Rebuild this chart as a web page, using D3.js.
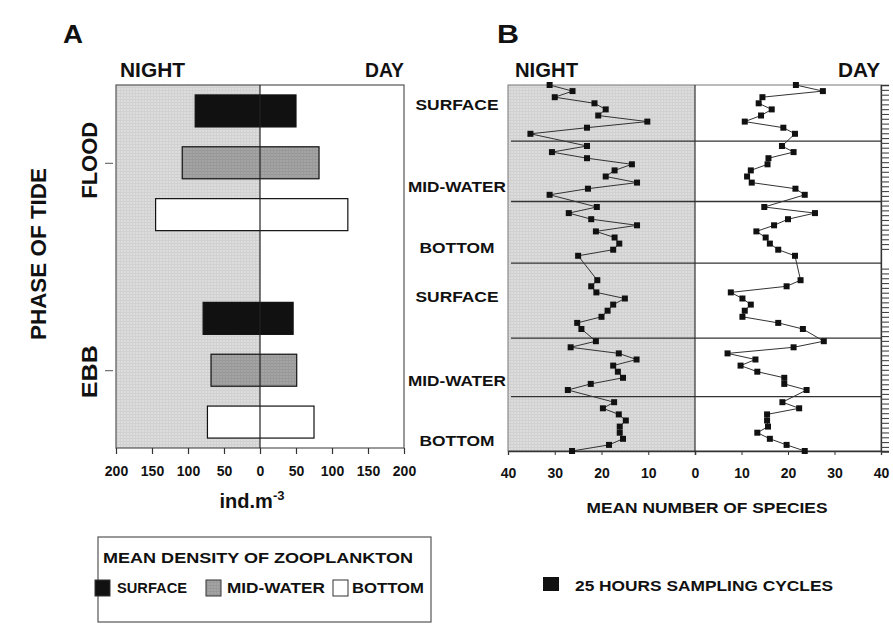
<!DOCTYPE html>
<html><head><meta charset="utf-8">
<script src="https://cdn.jsdelivr.net/npm/d3@7"></script>
<style>
body{margin:0;background:#fff}
text{font-family:"Liberation Sans",Arial,Helvetica,sans-serif;font-weight:bold;fill:#111}
</style>
</head><body>
<svg id="chart" width="893" height="624"></svg>
<script>
// ---------------- DATA ----------------
const tidePhases = ["FLOOD", "EBB"];
const depthLayers = ["SURFACE", "MID-WATER", "BOTTOM"];
// mean density (ind.m-3), order: FLOOD surface, mid, bottom, EBB surface, mid, bottom
const densityNight = [90, 108, 145, 79, 68, 73];
const densityDay   = [50, 82, 122, 46, 51, 75];
const densityTicks = [-200, -150, -100, -50, 0, 50, 100, 150, 200];

// sampling order (index within the 25 h cycles), per depth block
const sampleIndex = [
  0,1,2,3,4,5,6,7,8,
  10,11,12,13,14,15,16,17,18,
  20,21,22,23,24,25,26,27,28,
  32,33,34,35,36,37,38,39,40,
  42,43,44,45,46,47,48,49,50,
  52,53,54,55,56,57,58,59,60
];
const speciesNight = [
  31.1,26.2,30.0,21.5,19.1,20.7,10.2,23.1,35.2,
  23.1,30.6,23.1,13.5,17.2,19.1,12.4,22.9,31.1,
  21.0,27.0,22.2,12.4,21.2,17.2,16.2,17.5,25.0,
  20.9,22.2,21.1,15.0,17.5,18.7,20.0,25.2,24.3,
  21.2,26.6,16.3,12.5,17.5,16.5,15.4,22.3,27.2,
  17.3,19.7,16.3,14.8,16.1,16.1,15.4,18.4,26.3
];
const speciesDay = [
  21.7,27.5,14.5,13.7,16.5,14.2,10.7,19.0,21.5,
  18.7,21.2,15.8,15.6,12.0,11.2,12.2,21.6,23.6,
  14.9,25.8,20.0,17.0,13.2,15.2,16.1,17.9,21.5,
  22.7,19.7,7.7,10.2,12.0,10.7,10.2,17.9,23.2,
  27.7,21.2,7.0,13.0,9.8,13.4,19.2,19.2,24.0,
  18.8,22.4,15.5,15.5,15.7,13.4,16.1,19.7,23.6
];
const speciesTicksNight = [40, 30, 20, 10, 0];
const speciesTicksDay = [10, 20, 30, 40];
const sectionBreaks = [9.2, 19.1, 29.2, 41.5, 51.1];
const sectionLabels = ["SURFACE", "MID-WATER", "BOTTOM", "SURFACE", "MID-WATER", "BOTTOM"];

// ---------------- DRAW ----------------
const svg = d3.select("#chart");
const defs = svg.append("defs");
const pat = defs.append("pattern").attr("id","screen").attr("width",3).attr("height",3)
  .attr("patternUnits","userSpaceOnUse");
pat.append("rect").attr("width",3).attr("height",3).attr("fill","#dcdcdc");
pat.append("rect").attr("width",3).attr("height",1).attr("fill","#d0d0d0");
pat.append("rect").attr("width",1).attr("height",3).attr("fill","#d2d2d2");
const pat2 = defs.append("pattern").attr("id","screen2").attr("width",3).attr("height",3)
  .attr("patternUnits","userSpaceOnUse");
pat2.append("rect").attr("width",3).attr("height",3).attr("fill","#a4a4a4");
pat2.append("rect").attr("width",3).attr("height",1).attr("fill","#979797");
pat2.append("rect").attr("width",1).attr("height",3).attr("fill","#9a9a9a");

function label(txt, x, y, size, opts = {}) {
  const t = svg.append("text").attr("x", x).attr("y", y)
    .attr("font-size", size).attr("text-anchor", opts.anchor || "start").text(txt);
  if (opts.len) t.attr("textLength", opts.len).attr("lengthAdjust", "spacingAndGlyphs");
  if (opts.rotate) t.attr("transform", `rotate(-90 ${x} ${y})`);
  return t;
}

// ===== Panel A =====
const xA = d3.scaleLinear().domain([-200, 200]).range([116, 404]);
const yA = d3.scaleLinear().domain([-0.5, 6.5]).range([85, 448]);
const gA = svg.append("g");
gA.append("rect").attr("x", xA(-200)).attr("y", yA(-0.5))
  .attr("width", xA(0) - xA(-200)).attr("height", yA(6.5) - yA(-0.5)).attr("fill", "url(#screen)");

const rows = [];
tidePhases.forEach((p, pi) => depthLayers.forEach((d, di) => {
  const k = pi * 3 + di;
  rows.push({phase: p, depth: di, slot: pi * 4 + di, night: densityNight[k], day: densityDay[k]});
}));
const fills = ["#111", "url(#screen2)", "#fff"];
const barH = 32;
gA.selectAll("rect.bar").data(rows).join("rect").attr("class","bar")
  .attr("x", d => xA(-d.night)).attr("y", d => yA(d.slot) - barH / 2)
  .attr("width", d => xA(d.day) - xA(-d.night)).attr("height", barH)
  .attr("fill", d => fills[d.depth]).attr("stroke", "#111").attr("stroke-width", 1.2);

// box
gA.append("rect").attr("x", xA(-200)).attr("y", yA(-0.5))
  .attr("width", xA(200) - xA(-200)).attr("height", yA(6.5) - yA(-0.5))
  .attr("fill", "none").attr("stroke", "#555").attr("stroke-width", 1.2);
gA.append("line").attr("x1", xA(0)).attr("x2", xA(0)).attr("y1", yA(-0.5)).attr("y2", yA(6.5))
  .attr("stroke", "#222").attr("stroke-width", 1.2);

const axA = gA.append("g").attr("transform", `translate(0,${yA(6.5)})`)
  .call(d3.axisBottom(xA).tickValues(densityTicks).tickSize(6).tickFormat(d => Math.abs(d)));
axA.select(".domain").remove();
axA.selectAll(".tick line").attr("stroke", "#333").attr("stroke-width", 1.2);
axA.selectAll(".tick text").attr("font-size", 14).attr("y", 18).attr("fill", "#111")
  .attr("font-family", '"Liberation Sans Narrow","Liberation Sans",Arial,sans-serif')
  .attr("font-weight", "bold");

// phase ticks
const phaseAxis = gA.append("g").attr("transform", `translate(113,0)`)
  .call(d3.axisLeft(yA).tickValues([1, 5]).tickSize(8).tickFormat(""));
phaseAxis.select(".domain").remove();
phaseAxis.selectAll(".tick line").attr("stroke", "#555");
tidePhases.forEach((p, i) => {
  const yc = yA(i * 4 + 1) + (i ? 1.5 : -2.5);
  label(p, 97, yc, 22, {anchor: "middle", rotate: true, len: p.length === 5 ? 77 : 53});
});
label("PHASE OF TIDE", 46, 254, 22, {anchor: "middle", rotate: true, len: 172});

label("A", 63, 43, 26, {len: 20});
label("NIGHT", 120, 77, 20, {len: 65});
label("DAY", 404, 77, 20, {anchor: "end", len: 39});
const unit = svg.append("text").attr("x", 252).attr("y", 508).attr("font-size", 20)
  .attr("text-anchor", "middle");
unit.append("tspan").text("ind.m");
unit.append("tspan").attr("dy", -8).attr("font-size", 13).text("-3");

// legend A
svg.append("rect").attr("x", 98).attr("y", 537).attr("width", 333).attr("height", 85)
  .attr("fill", "none").attr("stroke", "#555").attr("stroke-width", 1.2);
label("MEAN DENSITY OF ZOOPLANKTON", 258, 563, 15, {anchor: "middle", len: 310});
const legA = [
  {name: depthLayers[0], sx: 95, tx: 117, len: 70, fill: "#111"},
  {name: depthLayers[1], sx: 206, tx: 227, len: 98, fill: "url(#screen2)"},
  {name: depthLayers[2], sx: 333, tx: 352, len: 72, fill: "#fff"}
];
legA.forEach(l => {
  svg.append("rect").attr("x", l.sx).attr("y", 580).attr("width", 15).attr("height", 16)
    .attr("fill", l.fill).attr("stroke", "#333").attr("stroke-width", 1);
  label(l.name, l.tx, 593, 14, {len: l.len});
});

// ===== Panel B =====
const xN = d3.scaleLinear().domain([40, 0]).range([508, 695]);
const xD = d3.scaleLinear().domain([0, 40]).range([695, 881]);
const yB = d3.scaleLinear().domain([0, 60]).range([85, 451]);
const gB = svg.append("g");
gB.append("rect").attr("x", xN(40)).attr("y", yB(0)).attr("width", xN(0) - xN(40))
  .attr("height", yB(60) - yB(0)).attr("fill", "url(#screen)");
gB.append("rect").attr("x", xN(40)).attr("y", yB(0)).attr("width", xD(40) - xN(40))
  .attr("height", yB(60) - yB(0)).attr("fill", "none").attr("stroke", "#777").attr("stroke-width", 1);
gB.append("line").attr("x1", xN(0)).attr("x2", xN(0)).attr("y1", yB(0)).attr("y2", yB(60))
  .attr("stroke", "#333").attr("stroke-width", 1.2);
gB.selectAll("line.sep").data(sectionBreaks).join("line").attr("class", "sep")
  .attr("x1", xN(40) + 3).attr("x2", xD(40)).attr("y1", d => yB(d)).attr("y2", d => yB(d))
  .attr("stroke", "#333").attr("stroke-width", 1.3);

// axes
const axN = gB.append("g").attr("transform", `translate(0,${yB(60)})`)
  .call(d3.axisBottom(xN).tickValues(speciesTicksNight).tickSize(4));
const axD = gB.append("g").attr("transform", `translate(0,${yB(60)})`)
  .call(d3.axisBottom(xD).tickValues(speciesTicksDay).tickSize(4));
[axN, axD].forEach(a => {
  a.select(".domain").attr("stroke", "#333").attr("stroke-width", 1.3);
  a.selectAll(".tick line").attr("stroke", "#333");
  a.selectAll(".tick text").attr("font-size", 14).attr("y", 17).attr("fill", "#111")
    .attr("font-family", '"Liberation Sans Narrow","Liberation Sans",Arial,sans-serif')
    .attr("font-weight", "bold");
});
// right minor ticks
const rightTicks = d3.range(0.8, 27.5, 0.79).concat(d3.range(30.1, 60.2, 0.79));
const axR = gB.append("g").attr("transform", `translate(${xD(40)},0)`)
  .call(d3.axisRight(yB).tickValues(rightTicks).tickSize(8).tickFormat(""));
axR.select(".domain").attr("stroke", "#333").attr("stroke-width", 1.3);
axR.selectAll(".tick line").attr("stroke", "#444").attr("stroke-width", 1.1);

const pts = sampleIndex.map((s, i) => ({s, n: speciesNight[i], d: speciesDay[i]}));
const lineN = d3.line().x(d => xN(d.n)).y(d => yB(d.s));
const lineD = d3.line().x(d => xD(d.d)).y(d => yB(d.s));
gB.append("path").attr("d", lineN(pts)).attr("fill", "none").attr("stroke", "#333").attr("stroke-width", 1);
gB.append("path").attr("d", lineD(pts)).attr("fill", "none").attr("stroke", "#333").attr("stroke-width", 1);
const sq = 6;
gB.selectAll("rect.pn").data(pts).join("rect").attr("class", "pn")
  .attr("x", d => xN(d.n) - sq / 2).attr("y", d => yB(d.s) - sq / 2)
  .attr("width", sq).attr("height", sq).attr("fill", "#111");
gB.selectAll("rect.pd").data(pts).join("rect").attr("class", "pd")
  .attr("x", d => xD(d.d) - sq / 2).attr("y", d => yB(d.s) - sq / 2)
  .attr("width", sq).attr("height", sq).attr("fill", "#111");

// section labels
const labelBaselines = [110, 192, 253, 302, 386, 446];
const labelLens = [83, 98, 75, 83, 98, 75];
sectionLabels.forEach((t, i) => label(t, 457, labelBaselines[i], 15, {anchor: "middle", len: labelLens[i]}));

label("B", 497, 43, 26, {len: 22});
label("NIGHT", 515, 77, 20, {len: 63});
label("DAY", 880, 77, 20, {anchor: "end", len: 42});
label("MEAN NUMBER OF SPECIES", 707, 513, 15, {anchor: "middle", len: 241});
svg.append("rect").attr("x", 543).attr("y", 577).attr("width", 16).attr("height", 14).attr("fill", "#111");
label("25 HOURS SAMPLING CYCLES", 575, 591, 15, {len: 258});
</script>
</body></html>
